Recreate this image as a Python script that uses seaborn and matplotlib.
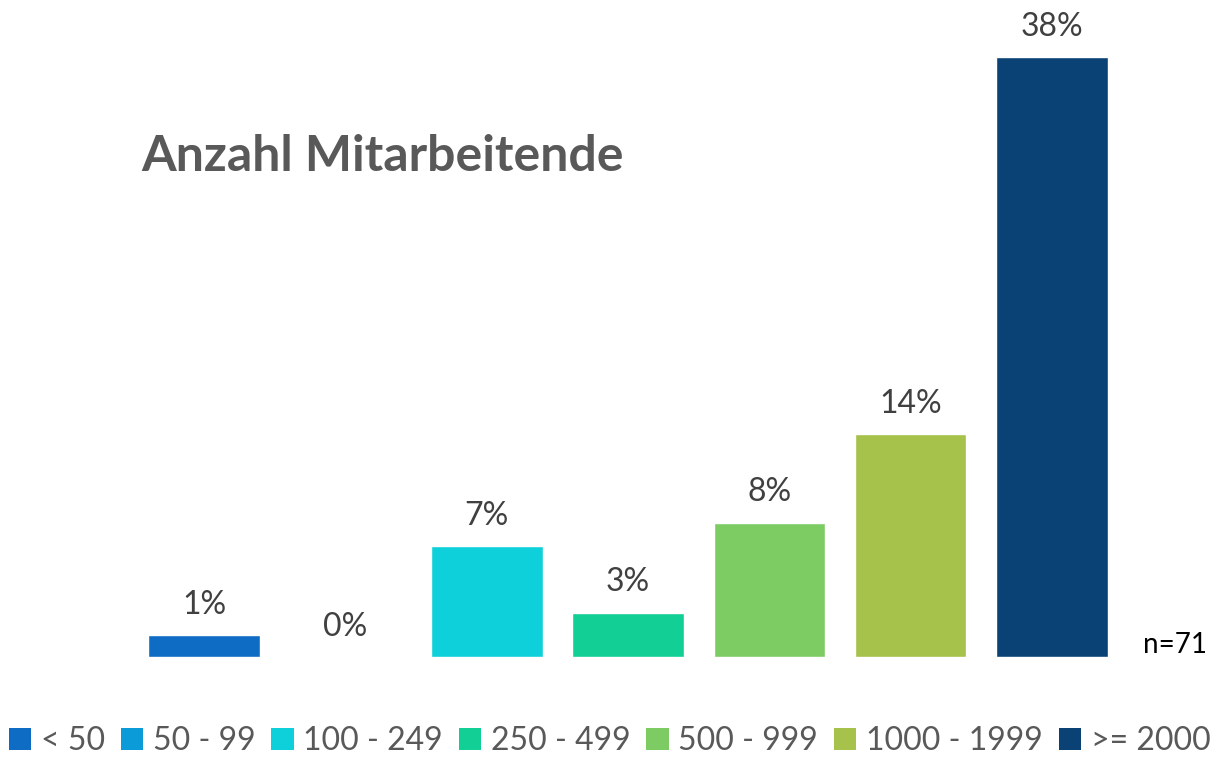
import matplotlib
matplotlib.use("Agg")
import matplotlib.pyplot as plt
from matplotlib.patches import Patch
import seaborn as sns
import pandas as pd

# Data
categories = ["< 50", "50 - 99", "100 - 249", "250 - 499", "500 - 999", "1000 - 1999", ">= 2000"]
shares = [1.4, 0.0, 7.0, 2.8, 8.5, 14.1, 38.0]
labels = ["1%", "0%", "7%", "3%", "8%", "14%", "38%"]
colors = ["#0F6CC5", "#0A9BD8", "#0DD0DA", "#12CF96", "#7DCB63", "#A6C24A", "#0B4276"]

df = pd.DataFrame({"Kategorie": categories, "Anteil": shares})

sns.set_style("white")
plt.rcParams["font.family"] = ["Lato", "DejaVu Sans"]

fig = plt.figure(figsize=(12.19, 7.61), dpi=100)
ax = fig.add_axes([0.1095, 0.1367, 0.8114, 0.83])

sns.barplot(data=df, x="Kategorie", y="Anteil", hue="Kategorie", palette=colors,
            width=0.79, legend=False, ax=ax, saturation=1)

for cont, lab in zip(ax.containers, labels):
    ax.bar_label(cont, labels=[lab], padding=11, fontsize=23, color="#404040")

ax.set_xlim(-0.5, 6.5)
ax.set_ylim(0, 40)
ax.set_xlabel("")
ax.set_ylabel("")
ax.set_xticks([])
ax.set_yticks([])
sns.despine(ax=ax, left=True, bottom=True)

fig.text(0.116, 0.795, "Anzahl Mitarbeitende", fontsize=36, fontweight="bold",
         color="#595959", va="center", ha="left")
fig.text(0.938, 0.153, "n=71", fontsize=20, color="#000000", ha="left", va="center")

handles = [Patch(facecolor=c, edgecolor="none") for c in colors]
fig.legend(handles, categories, loc="center", bbox_to_anchor=(0.5, 0.026), ncol=7,
           frameon=False, fontsize=23, labelcolor="#595959", handlelength=0.7,
           handleheight=0.7, handletextpad=0.3, columnspacing=0.5)

fig.savefig("out.png", dpi=100)
